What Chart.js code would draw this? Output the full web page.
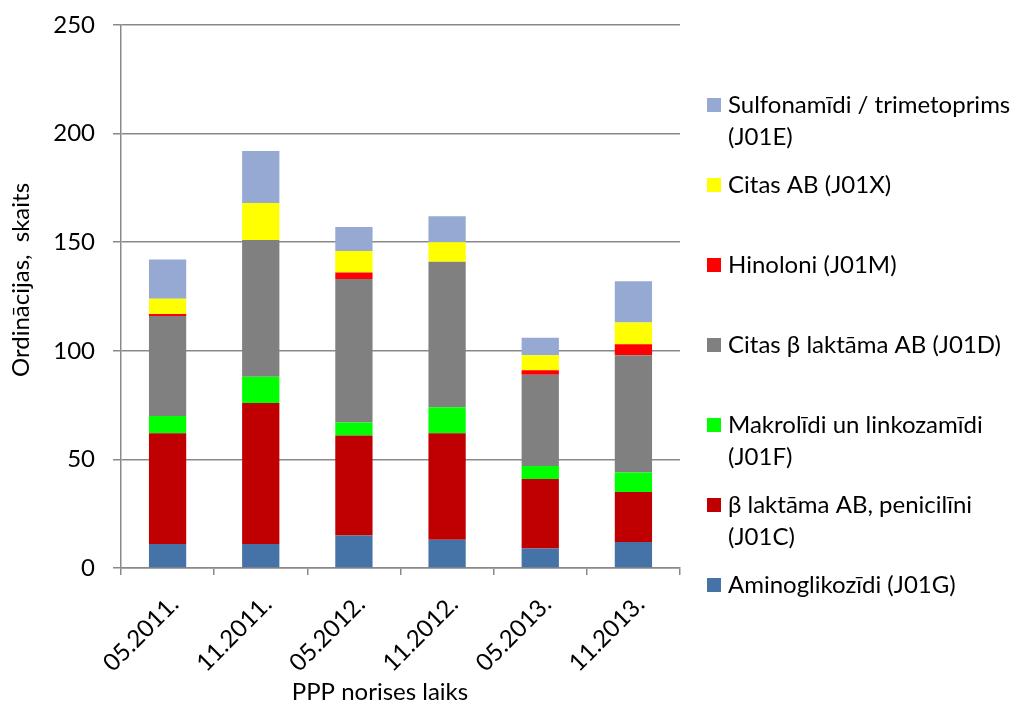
<!DOCTYPE html>
<html>
<head>
<meta charset="utf-8">
<script src="https://cdn.jsdelivr.net/npm/chart.js@4.4.1/dist/chart.umd.min.js"></script>
<style>
  html, body { margin: 0; padding: 0; background: #ffffff; }
  #wrap { width: 1023px; height: 704px; position: relative; }
</style>
</head>
<body>
<div id="wrap"><canvas id="c" width="1023" height="704"></canvas></div>
<script>
// Survey periods (x categories)
const periods = ['05.2011.', '11.2011.', '05.2012.', '11.2012.', '05.2013.', '11.2013.'];

// Prescription counts per antibiotic group, stacked bottom to top
const aminoglikozidi   = [11, 11, 15, 13, 9, 12];   // J01G
const betaLaktamaPenic = [51, 65, 46, 49, 32, 23];  // J01C
const makrolidi        = [8, 12, 6, 12, 6, 9];      // J01F
const citasBetaLaktama = [46, 63, 66, 67, 42, 54];  // J01D
const hinoloni         = [1, 0, 3, 0, 2, 5];        // J01M
const citasAB          = [7, 17, 10, 9, 7, 10];     // J01X
const sulfonamidi      = [18, 24, 11, 12, 8, 19];   // J01E

// Y axis ticks
const yTicks = [0, 50, 100, 150, 200, 250];

// Legend texts (one entry per series, may span two lines)
const legendAminoglikozidi = ['Aminoglikozīdi (J01G)'];
const legendBetaLaktamaPenic = ['β laktāma AB, penicilīni', '(J01C)'];
const legendMakrolidi = ['Makrolīdi un linkozamīdi', '(J01F)'];
const legendCitasBetaLaktama = ['Citas β laktāma AB (J01D)'];
const legendHinoloni = ['Hinoloni (J01M)'];
const legendCitasAB = ['Citas AB (J01X)'];
const legendSulfonamidi = ['Sulfonamīdi / trimetoprims', '(J01E)'];

const xTitle = 'PPP norises laiks';
const yTitle = 'Ordinācijas,  skaits';

const FONT = 'Lato, "Liberation Sans", sans-serif';
const FONT_SIZE = 24;
const AXIS_GREY = '#898989';

const datasets = [
  { label: legendAminoglikozidi,   data: aminoglikozidi,   backgroundColor: '#4572A7' },
  { label: legendBetaLaktamaPenic, data: betaLaktamaPenic, backgroundColor: '#C00000' },
  { label: legendMakrolidi,        data: makrolidi,        backgroundColor: '#00FF00' },
  { label: legendCitasBetaLaktama, data: citasBetaLaktama, backgroundColor: '#808080' },
  { label: legendHinoloni,         data: hinoloni,         backgroundColor: '#FF0000' },
  { label: legendCitasAB,          data: citasAB,          backgroundColor: '#FFFF00' },
  { label: legendSulfonamidi,      data: sulfonamidi,      backgroundColor: '#95A9D2' }
].map(d => Object.assign(d, { barPercentage: 0.4, categoryPercentage: 1.0, borderWidth: 0 }));

// Right-hand legend, listed top to bottom in reverse stacking order
const sideLegend = {
  id: 'sideLegend',
  afterDraw(chart, args, opts) {
    const ctx = chart.ctx;
    ctx.save();
    ctx.font = FONT_SIZE + 'px ' + FONT;
    ctx.textBaseline = 'middle';
    ctx.textAlign = 'left';
    const items = chart.data.datasets.slice().reverse();
    items.forEach((ds, i) => {
      const y0 = opts.top + i * opts.step;
      ctx.fillStyle = ds.backgroundColor;
      ctx.fillRect(opts.boxX, Math.round(y0 - opts.box / 2), opts.box, opts.box);
      ctx.fillStyle = '#000000';
      ds.label.forEach((line, j) => {
        ctx.fillText(line, opts.textX, y0 + j * opts.lineHeight);
      });
    });
    ctx.restore();
  }
};

// Axis titles
const axisTitles = {
  id: 'axisTitles',
  afterDraw(chart, args, opts) {
    const ctx = chart.ctx;
    ctx.save();
    ctx.font = FONT_SIZE + 'px ' + FONT;
    ctx.fillStyle = '#000000';
    ctx.textAlign = 'center';
    ctx.textBaseline = 'middle';
    ctx.fillText(xTitle, opts.xTitleX, opts.xTitleY);
    ctx.translate(opts.yTitleX, opts.yTitleY);
    ctx.rotate(-Math.PI / 2);
    ctx.fillText(yTitle, 0, 0);
    ctx.restore();
  }
};

new Chart(document.getElementById('c'), {
  type: 'bar',
  data: { labels: periods, datasets },
  plugins: [sideLegend, axisTitles],
  options: {
    responsive: false,
    animation: false,
    devicePixelRatio: 1,
    layout: { padding: { top: 25, right: 343, left: 0, bottom: 0 } },
    plugins: {
      legend: { display: false },
      tooltip: { enabled: false },
      sideLegend: { top: 105, step: 80, lineHeight: 32, box: 14, boxX: 707, textX: 728 },
      axisTitles: { xTitleX: 380, xTitleY: 692, yTitleX: 21, yTitleY: 280 }
    },
    scales: {
      x: {
        stacked: true,
        offset: true,
        afterFit(scale) { scale.height = 136; },
        grid: { drawOnChartArea: false, drawTicks: true, tickLength: 7, color: AXIS_GREY, lineWidth: 1.5, offset: true },
        border: { color: AXIS_GREY, width: 1.5 },
        ticks: {
          color: '#000000',
          font: { family: FONT, size: FONT_SIZE },
          minRotation: 45, maxRotation: 45,
          padding: 15,
          labelOffset: 7,
          autoSkip: false
        }
      },
      y: {
        stacked: true,
        min: yTicks[0],
        max: yTicks[yTicks.length - 1],
        afterFit(scale) {
          scale.width = 121;
          scale.paddingTop = 0;
          scale.paddingBottom = 0;
        },
        afterBuildTicks(scale) { scale.ticks = yTicks.map(v => ({ value: v })); },
        grid: { color: AXIS_GREY, lineWidth: 1.5, tickLength: 8, drawTicks: true },
        border: { color: AXIS_GREY, width: 1.5 },
        ticks: {
          color: '#000000',
          font: { family: FONT, size: FONT_SIZE },
          padding: 18
        }
      }
    }
  }
});
</script>
</body>
</html>
